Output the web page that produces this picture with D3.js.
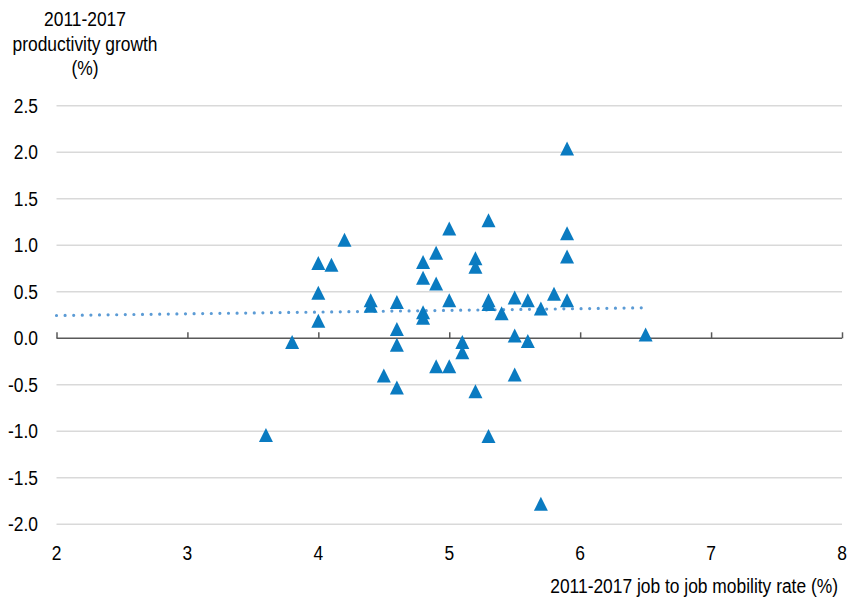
<!DOCTYPE html>
<html>
<head>
<meta charset="utf-8">
<script src="https://cdn.jsdelivr.net/npm/d3@7"></script>
<style>
  html, body { margin: 0; padding: 0; background: #fff; }
  svg { display: block; }
  text { font-family: "Liberation Sans Narrow", "Arial Narrow", "Liberation Sans", Arial, sans-serif; fill: #000; font-size: 20px; }
</style>
</head>
<body>
<svg id="chart" width="847" height="598"></svg>
<script>
// Job to job mobility rate (%) per region, 2011-2017
const mobility = [3.6, 3.8, 4.0, 4.0, 4.0, 4.1, 4.2, 4.4, 4.4, 4.5, 4.6, 4.6, 4.6, 4.6,
  4.8, 4.8, 4.8, 4.8, 4.9, 4.9, 4.9, 5.0, 5.0, 5.0, 5.1, 5.1, 5.2, 5.2, 5.2,
  5.3, 5.3, 5.3, 5.3, 5.4, 5.5, 5.5, 5.5, 5.6, 5.6, 5.7, 5.7, 5.8,
  5.9, 5.9, 5.9, 5.9, 6.5];
// Productivity growth (%) per region, 2011-2017
const productivity = [-1.04, -0.04, 0.81, 0.49, 0.19, 0.79, 1.06, 0.41, 0.35, -0.40, 0.39, 0.10, -0.07, -0.53,
  0.82, 0.65, 0.28, 0.22, 0.92, 0.59, -0.30, 1.18, 0.41, -0.30, -0.04, -0.15, 0.86, 0.77, -0.57,
  1.27, 0.41, 0.37, -1.05, 0.27, 0.44, 0.03, -0.39, 0.41, -0.03, 0.32, -1.78, 0.48,
  2.04, 1.13, 0.88, 0.41, 0.04];
// Linear trend endpoints
const trendX = [2, 6.5];
const trendY = [0.245, 0.328];
// Axis ticks
const xTicks = [2, 3, 4, 5, 6, 7, 8];
const yTicks = [2.5, 2.0, 1.5, 1.0, 0.5, 0.0, -0.5, -1.0, -1.5, -2.0];
const yTitle = ["2011-2017", "productivity growth", "(%)"];
const xTitle = "2011-2017 job to job mobility rate (%)";

const narrow = 0.87; // horizontal squeeze to get a narrow face

const svg = d3.select("#chart");
const x = d3.scaleLinear().domain([2, 8]).range([56.5, 842]);
const y = d3.scaleLinear().domain([-2, 2.5]).range([524.3, 105.8]);

// Places a condensed text label at (px, py)
function label(parent, px, py, anchor) {
  return parent.append("g")
    .attr("transform", `translate(${px},${py}) scale(${narrow},1)`)
    .append("text")
    .attr("dy", "0.35em")
    .attr("text-anchor", anchor);
}

// Horizontal gridlines
svg.append("g")
  .selectAll("line")
  .data(yTicks.filter(v => v !== 0))
  .join("line")
  .attr("x1", x(2)).attr("x2", x(8))
  .attr("y1", d => y(d)).attr("y2", d => y(d))
  .attr("stroke", "#d9d9d9").attr("stroke-width", 1.5);

// Y tick labels
const yl = svg.append("g");
yTicks.forEach(v => label(yl, 38, y(v), "end").text(d3.format(".1f")(v).replace("−", "-")));

// Zero axis with upward ticks
const xAxis = d3.axisTop(x).tickValues(xTicks).tickSize(6).tickFormat("");
const gx = svg.append("g").attr("transform", `translate(0,${y(0)})`).call(xAxis);
gx.select(".domain").attr("stroke", "#595959").attr("stroke-width", 1.5).attr("d", `M${x(2)},0H${x(8)}`);
gx.selectAll(".tick line").attr("stroke", "#595959").attr("stroke-width", 1.5);

// X tick labels along the bottom
const xl = svg.append("g");
xTicks.forEach(v => label(xl, x(v), 553, "middle").text(v));

// Trend line
svg.append("line")
  .attr("x1", x(trendX[0])).attr("y1", y(trendY[0]))
  .attr("x2", x(trendX[1])).attr("y2", y(trendY[1]))
  .attr("stroke", "#5b9bd5").attr("stroke-width", 3.2)
  .attr("stroke-linecap", "round").attr("stroke-dasharray", "0 8.6");

// Triangle markers
const tri = "M0,-7L7,7L-7,7Z";
svg.append("g")
  .selectAll("path")
  .data(mobility.map((m, i) => [m, productivity[i]]))
  .join("path")
  .attr("d", tri)
  .attr("transform", d => `translate(${x(d[0])},${y(d[1])})`)
  .attr("fill", "#0a7bc1");

// Axis titles
const tl = svg.append("g");
yTitle.forEach((t, i) => label(tl, 85, 19 + i * 24.5, "middle").text(t));
label(svg, 838, 586, "end").text(xTitle);
</script>
</body>
</html>
